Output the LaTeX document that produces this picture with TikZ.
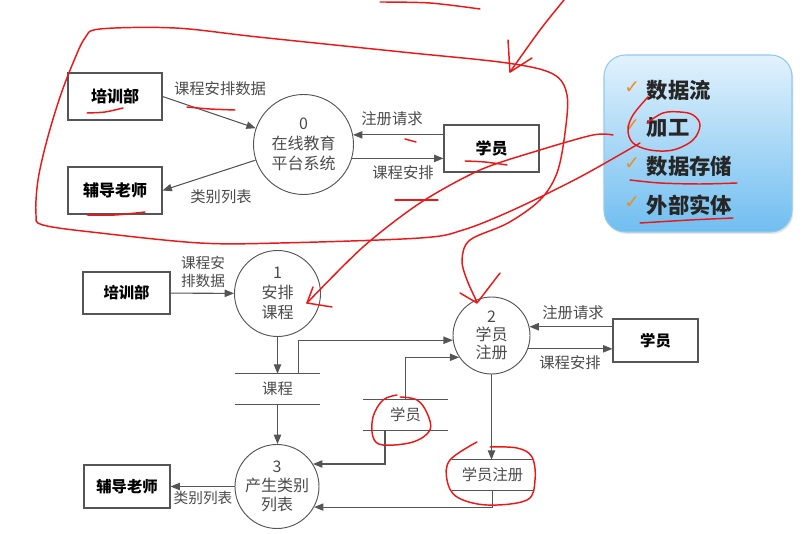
\documentclass[tikz,border=0pt]{standalone}
\usepackage{fontspec}
\setmainfont{Noto Sans CJK SC}
\newfontfamily\symfont{DejaVu Sans}
\usetikzlibrary{arrows.meta,shadows}
\definecolor{linegray}{RGB}{85,85,85}
\definecolor{textgray}{RGB}{75,75,75}
\definecolor{inkred}{RGB}{236,24,24}
\definecolor{paneltop}{RGB}{226,242,252}
\definecolor{panelmid}{RGB}{172,216,246}
\definecolor{panelbot}{RGB}{112,190,240}
\definecolor{panelrim}{RGB}{145,202,240}
\definecolor{tickorange}{RGB}{238,140,30}
\begin{document}
\begin{tikzpicture}[x=0.75pt,y=-0.75pt,
    entity/.style={draw=linegray, line width=0.8pt, font=\fontsize{12}{14}\selectfont\bfseries},
    proc/.style={circle, draw=linegray, line width=0.7pt, align=center, inner sep=0pt,
        text=textgray, font=\fontsize{12}{15}\selectfont},
    store/.style={minimum height=22.5pt, inner sep=0pt, text=textgray, font=\fontsize{11.5}{13}\selectfont},
    flow/.style={draw=linegray, line width=0.8pt, -{Triangle[length=7pt,width=5.5pt]}},
    lbl/.style={text=textgray, font=\fontsize{11.5}{14}\selectfont, inner sep=1pt},
    item/.style={anchor=west, text=black!85, font=\fontsize{16}{18}\selectfont\bfseries},
    ink/.style={draw=inkred, line width=1.1pt, line cap=round, line join=round}]
    \useasboundingbox (0,0) rectangle (808,534);

    % context diagram
    \node[entity, minimum width=70.5pt, minimum height=35.25pt] (trainA) at (115,96.5) {培训部};
    \node[entity, minimum width=70.5pt, minimum height=35.25pt] (tutorA) at (115,190.5) {辅导老师};
    \node[entity, minimum width=71.25pt, minimum height=35.25pt] (studA) at (491.5,148.5) {学员};
    \node[proc, minimum size=75pt] (sys) at (303.5,144.5) {0\\在线教育\\平台系统};
    \draw[flow] (trainA.east) -- (sys);
    \draw[flow] (sys) -- (tutorA.east);
    \draw[flow] (studA.west |- sys.11) -- (sys.11);
    \draw[flow] (sys.-16) -- (sys.-16 -| studA.west);
    \node[lbl] (lbA1) at (220,89) {课程安排数据};
    \node[lbl] (lbA2) at (221,197) {类别列表};
    \node[lbl] (lbA3) at (392,119) {注册请求};
    \node[lbl] (lbA4) at (403,173) {课程安排};

    % level 1 diagram
    \node[entity, minimum width=65.25pt, minimum height=31.5pt, font=\fontsize{11.5}{13}\selectfont\bfseries] (trainB) at (126.5,293) {培训部};
    \node[entity, minimum width=63.75pt, minimum height=32.25pt, font=\fontsize{11.5}{13}\selectfont\bfseries] (studB) at (655.5,340.5) {学员};
    \node[entity, minimum width=64.5pt, minimum height=32.25pt, font=\fontsize{11.5}{13}\selectfont\bfseries] (tutorB) at (127,486.5) {辅导老师};
    \node[proc, minimum size=64.5pt] (arrange) at (277.5,293.5) {1\\安排\\课程};
    \node[proc, minimum size=57.75pt, font=\fontsize{12}{13.5}\selectfont] (enrol) at (491.5,335.5) {2\\学员\\注册};
    \node[proc, minimum size=63pt, font=\fontsize{12}{14.5}\selectfont] (listing) at (277,486.5) {3\\产生类别\\列表};
    \node[store, minimum width=63.75pt] (course) at (277.5,389) {课程};
    \node[store, minimum width=63.75pt] (stud) at (405.5,415) {学员};
    \node[store, minimum width=60.75pt] (reg) at (492.5,475) {学员注册};
    \foreach \s in {course,stud,reg}
        \draw[linegray, line width=0.8pt] (\s.north west) -- (\s.north east) (\s.south west) -- (\s.south east);

    \draw[flow] (trainB) -- (arrange);
    \draw[flow] (arrange.south) -- (arrange.south |- course.north);
    \draw[flow] ([xshift=15.4pt]course.north) |- (enrol.187);
    \draw[flow] (stud.north) |- (enrol.214);
    \draw[flow] (studB.west |- enrol.13) -- (enrol.13);
    \draw[flow] (enrol.-20) -- (enrol.-20 -| studB.west);
    \draw[flow] (enrol.south) -- (enrol.south |- reg.north);
    \draw[flow] (course.south) -- (course.south |- listing.north);
    \draw[flow] ([xshift=-15.4pt]stud.south) |- (listing.32);
    \draw[flow] (reg.south) |- (listing.-29);
    \draw[flow] (listing) -- (tutorB);
    \node[lbl, align=center, font=\fontsize{11}{14}\selectfont] (lbB1) at (203,272) {课程安\\排数据};
    \node[lbl] (lbB2) at (573,313) {注册请求};
    \node[lbl] (lbB3) at (570,363) {课程安排};
    \node[lbl, font=\fontsize{11}{13}\selectfont] (lbB4) at (203,498) {类别列表};

    % key panel
    \draw[panelrim, line width=0.8pt, rounded corners=16pt, top color=paneltop, middle color=panelmid, bottom color=panelbot,
        drop shadow={opacity=0.2, shadow xshift=1pt, shadow yshift=-1.5pt}] (604,55) rectangle (792,232);
    \foreach \t/\y [count=\i] in {数据流/90, 加工/128, 数据存储/166, 外部实体/205}{
        \node[item] (kw\i) at (642,\y) {\t};
        \node[anchor=east, text=tickorange, font=\symfont\fontsize{14}{14}\selectfont, yshift=1.5pt, xshift=2pt] (tick\i) at (kw\i.west) {✓};}

    % red pen marks
    \draw[ink] plot[smooth, tension=0.55] coordinates {(640,143) (580,177) (513,210) (463,230) (420,238) (280,243)
        (200,243) (100,233) (43,225) (36,214) (38,180) (47,140) (60,97) (73,63) (85,38) (100,29) (175,28) (258,37)
        (402,52) (507,63) (553,74) (567,95) (565,133) (557,173) (540,200) (508,223) (470,240) (462,260) (467,280) (477,302)};
    \draw[ink] (460,293) -- (477,303) -- (500,273);
    \draw[ink] plot[smooth, tension=0.5] coordinates {(613,135) (593,135) (540,150) (480,170) (420,203) (363,247) (307,303)};
    \draw[ink] (313,287) -- (307,303) -- (332,307);
    \draw[ink] plot[smooth] coordinates {(564,0) (540,30) (510,72)};
    \draw[ink] (508,40) -- (510,72) -- (532,58);
    \draw[ink] plot[smooth] coordinates {(380,2) (430,3) (480,9)};
    \draw[ink] plot[smooth, tension=0.6] coordinates {(648,97) (633,115) (628,130) (633,143) (650,150) (673,150)
        (693,140) (700,125) (693,115) (680,112) (663,113) (647,123)};
    \draw[ink] plot[smooth] coordinates {(87,113) (105,112) (123,108)};
    \draw[ink] plot[smooth] coordinates {(87,215) (115,215) (145,212)};
    \draw[ink] plot[smooth] coordinates {(187,107) (210,109) (235,110)};
    \draw[ink] (405,139) -- (416,142);
    \draw[ink] plot[smooth] coordinates {(465,161) (485,162) (507,165)};
    \draw[ink] (395,200) -- (438,200);
    \draw[ink] plot[smooth] coordinates {(630,180) (660,183) (700,184) (737,183)};
    \draw[ink] plot[smooth] coordinates {(640,223) (690,220) (733,218)};
    \draw[ink] plot[smooth, tension=0.6] coordinates {(397,395) (383,400) (373,417) (373,437) (383,445) (413,442)
        (430,430) (427,413) (417,400) (400,397)};
    \draw[ink] plot[smooth, tension=0.6] coordinates {(477,442) (450,460) (447,480) (457,497) (487,505) (527,500)
        (535,480) (532,457) (517,448) (490,447)};
\end{tikzpicture}
\end{document}
